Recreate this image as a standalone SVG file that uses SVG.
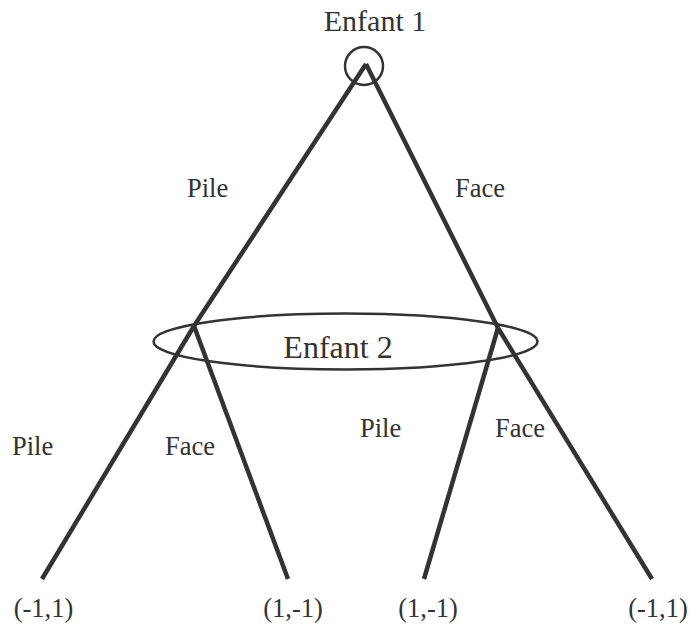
<svg xmlns="http://www.w3.org/2000/svg" width="692" height="625" viewBox="0 0 692 625">
<style>
.e{stroke:#333;stroke-width:4.5;fill:none;stroke-linecap:butt}
.o{stroke:#333;stroke-width:2.5;fill:none}
text{font-family:"Liberation Serif","Times New Roman",serif;fill:#333}
.t1{font-size:30px}
.t2{font-size:32px}
.l{font-size:26.5px}
</style>
<rect width="692" height="625" fill="#fff"/>
<g id="connectors">
<line class="e" x1="366" y1="64" x2="194" y2="326"/>
<line class="e" x1="194" y1="326" x2="42" y2="579"/>
<line class="e" x1="194" y1="326" x2="288" y2="579"/>
<line class="e" x1="366" y1="64" x2="498" y2="328"/>
<line class="e" x1="498" y1="328" x2="424" y2="579"/>
<line class="e" x1="498" y1="328" x2="652" y2="579"/>
</g>
<g id="enfant1">
<circle class="o" cx="364" cy="66" r="19"/>
<text class="t1" x="375" y="31" text-anchor="middle">Enfant 1</text>
</g>
<g id="enfant2">
<ellipse class="o" cx="345.5" cy="341.5" rx="192" ry="28"/>
<text class="t2" x="338" y="358" text-anchor="middle">Enfant 2</text>
</g>
<g id="labels">
<text class="l" x="187" y="197">Pile</text>
<text class="l" x="455" y="197">Face</text>
<text class="l" x="12" y="455">Pile</text>
<text class="l" x="165" y="455">Face</text>
<text class="l" x="360" y="437">Pile</text>
<text class="l" x="495" y="437">Face</text>
</g>
<g id="leaves">
<text class="l" x="43.5" y="617" text-anchor="middle">(-1,1)</text>
<text class="l" x="293" y="617" text-anchor="middle">(1,-1)</text>
<text class="l" x="428" y="617" text-anchor="middle">(1,-1)</text>
<text class="l" x="658" y="617" text-anchor="middle">(-1,1)</text>
</g>
</svg>
